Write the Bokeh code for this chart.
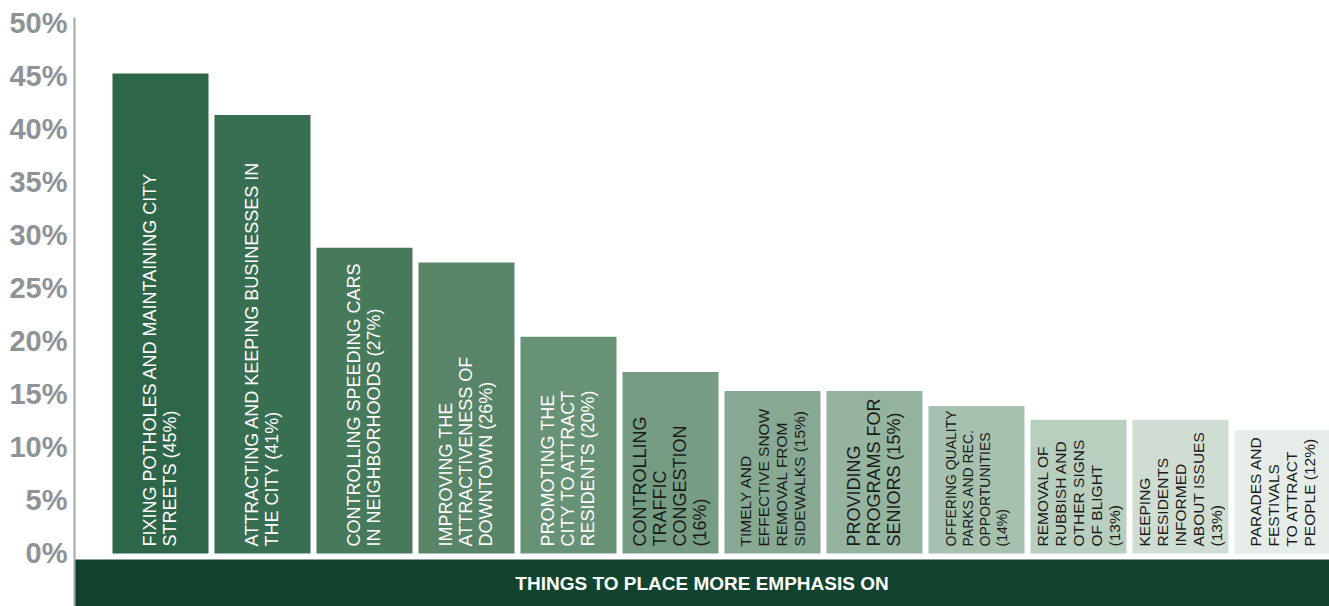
import math
from bokeh.plotting import figure
from bokeh.models import Range1d, FixedTicker, BoxAnnotation, Label, ColumnDataSource
from bokeh.core.properties import value
from bokeh.embed import file_html
from bokeh.resources import INLINE

# ---------------- data ----------------
categories = [
    "Fixing potholes and maintaining city streets",
    "Attracting and keeping businesses in the city",
    "Controlling speeding cars in neighborhoods",
    "Improving the attractiveness of downtown",
    "Promoting the city to attract residents",
    "Controlling traffic congestion",
    "Timely and effective snow removal from sidewalks",
    "Providing programs for seniors",
    "Offering quality parks and rec. opportunities",
    "Removal of rubbish and other signs of blight",
    "Keeping residents informed about issues",
    "Parades and festivals to attract people",
]
values = [45.2, 41.3, 28.8, 27.4, 20.4, 17.1, 15.3, 15.3, 13.9, 12.6, 12.6, 11.6]
bar_labels = [
    "FIXING POTHOLES AND MAINTAINING CITY\nSTREETS (45%)",
    "ATTRACTING AND KEEPING BUSINESSES IN\nTHE CITY (41%)",
    "CONTROLLING SPEEDING CARS\nIN NEIGHBORHOODS (27%)",
    "IMPROVING THE\nATTRACTIVENESS OF\nDOWNTOWN (26%)",
    "PROMOTING THE\nCITY TO ATTRACT\nRESIDENTS (20%)",
    "CONTROLLING\nTRAFFIC\nCONGESTION\n(16%)",
    "TIMELY AND\nEFFECTIVE SNOW\nREMOVAL FROM\nSIDEWALKS (15%)",
    "PROVIDING\nPROGRAMS FOR\nSENIORS (15%)",
    "OFFERING QUALITY\nPARKS AND REC.\nOPPORTUNITIES\n(14%)",
    "REMOVAL OF\nRUBBISH AND\nOTHER SIGNS\nOF BLIGHT\n(13%)",
    "KEEPING\nRESIDENTS\nINFORMED\nABOUT ISSUES\n(13%)",
    "PARADES AND\nFESTIVALS\nTO ATTRACT\nPEOPLE (12%)",
]
bar_colors = ["#2e6649", "#386e52", "#47795b", "#588568", "#679276", "#769d84",
              "#87a993", "#95b49f", "#a6c1ad", "#b8cebf", "#cfddd3", "#e6ede8"]
text_colors = ["#ffffff"] * 5 + ["#1a1a1a"] * 7
label_groups = ["L", "L", "L", "L", "L", "L", "M", "L", "S", "M", "M", "M"]
tick_values = [0, 5, 10, 15, 20, 25, 30, 35, 40, 45, 50]
tick_labels = ["0%", "5%", "10%", "15%", "20%", "25%", "30%", "35%", "40%", "45%", "50%"]
axis_title = "THINGS TO PLACE MORE EMPHASIS ON"

# ---------------- figure ----------------
W, H = 1329, 606
p = figure(width=W, height=H, output_backend="svg", toolbar_location=None,
           x_range=Range1d(-0.8431, 11.461), y_range=Range1d(-4.991, 50.471),
           min_border_left=74, min_border_right=0, min_border_top=17, min_border_bottom=0)
p.outline_line_color = None
p.background_fill_color = "white"
p.border_fill_color = "white"
p.xgrid.visible = False
p.ygrid.visible = False
p.xaxis.visible = False

ya = p.yaxis[0]
ya.ticker = FixedTicker(ticks=tick_values)
ya.major_label_overrides = {v: t for v, t in zip(tick_values, tick_labels)}
ya.major_label_text_font = "Liberation Sans"
ya.major_label_text_font_style = "bold"
ya.major_label_text_font_size = "29px"
ya.major_label_text_color = "#8e9397"
ya.major_label_standoff = 7
ya.major_tick_out = 0
ya.major_tick_in = 0
ya.minor_tick_out = 0
ya.minor_tick_in = 0
ya.axis_line_color = "#a3a8ab"
ya.axis_line_width = 2

# bottom band
band = BoxAnnotation(top=-0.565, fill_color="#12432f", fill_alpha=1.0,
                     line_color=None, level="underlay")
p.add_layout(band)
p.add_layout(Label(x=(p.x_range.start + p.x_range.end) / 2, y=-2.825, text=axis_title,
                   text_font="Liberation Sans", text_font_style="bold",
                   text_font_size="19px", text_color="white",
                   text_align="center", text_baseline="middle"))

xs = list(range(len(values)))
src = ColumnDataSource(dict(x=xs, top=values, color=bar_colors))
p.vbar(x="x", top="top", bottom=0, width=96 / 102, source=src,
       fill_color="color", line_color=None)

group_style = {"L": ("18px", 1.0), "M": ("15.5px", 1.07), "S": ("14px", 1.05)}
for g, (fs, lh) in group_style.items():
    idx = [i for i in xs if label_groups[i] == g]
    s = ColumnDataSource(dict(x=[xs[i] for i in idx], y=[0] * len(idx),
                              text=[bar_labels[i] for i in idx],
                              color=[text_colors[i] for i in idx]))
    p.text(x="x", y="y", text="text", source=s, angle=math.pi / 2,
           text_align="left", text_baseline="middle", y_offset=-7,
           text_font=value("Liberation Sans"), text_font_size=fs,
           text_line_height=lh, text_color="color")

open("out.html", "w").write(file_html(p, INLINE))
